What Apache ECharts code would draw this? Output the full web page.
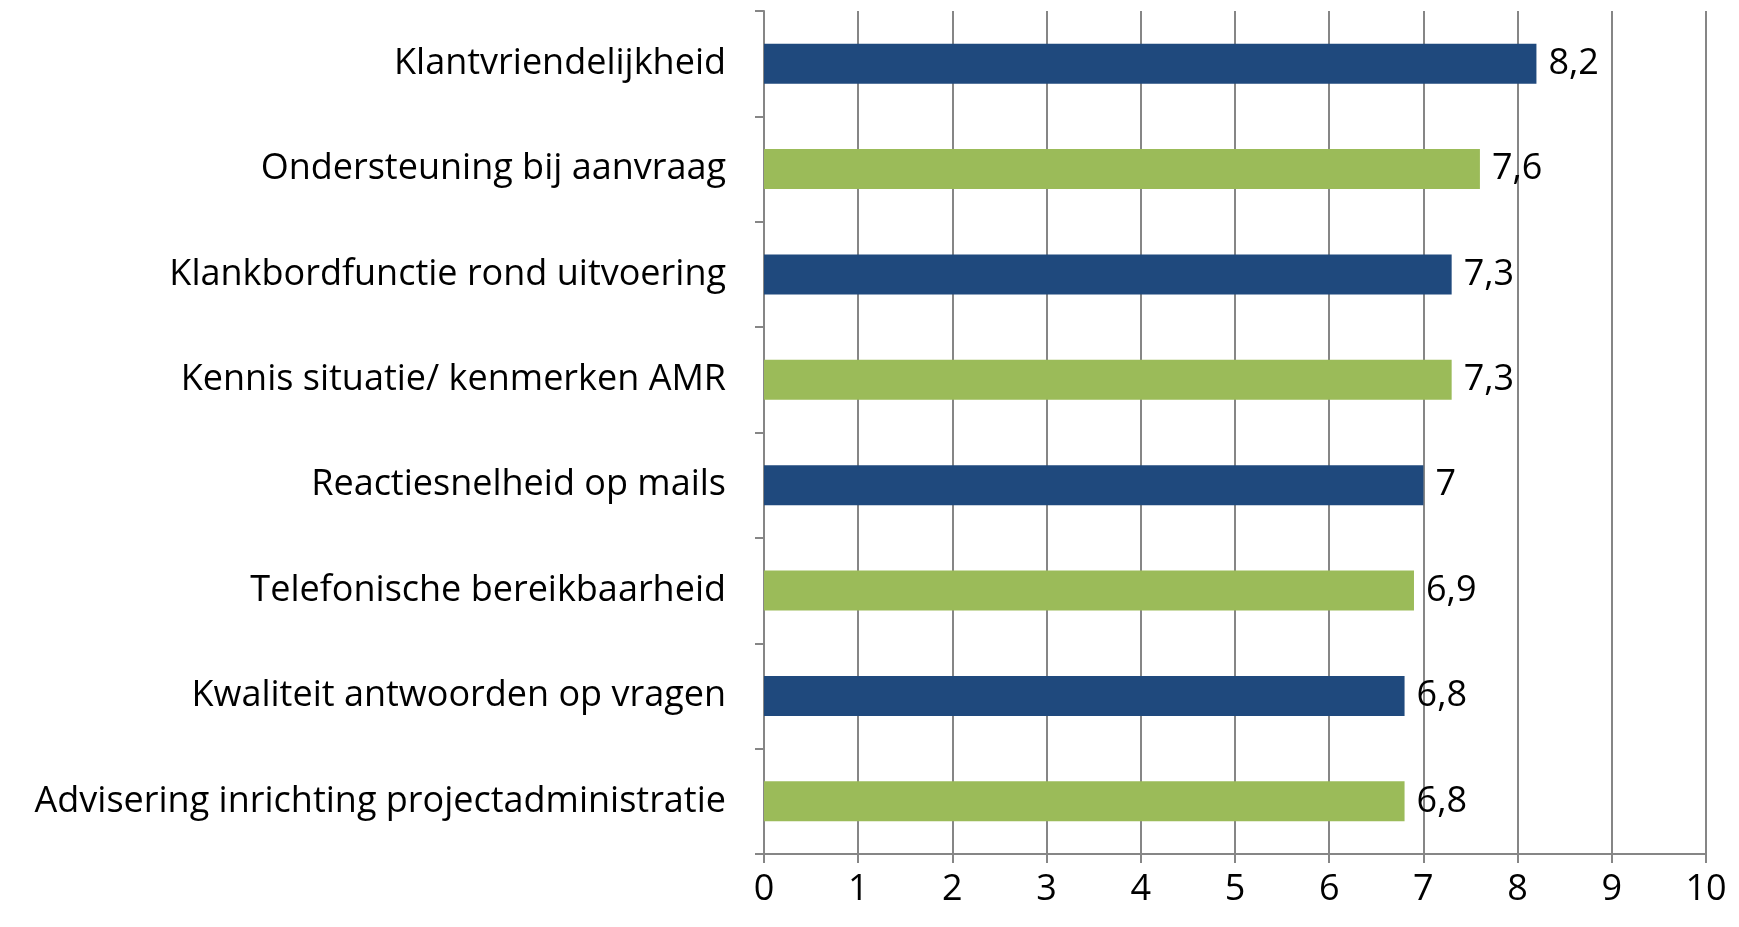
<!DOCTYPE html>
<html>
<head>
<meta charset="utf-8">
<script src="https://cdn.jsdelivr.net/npm/echarts@6/dist/echarts.min.js"></script>
<style>
html,body{margin:0;padding:0;background:#fff;}
#main{width:1739px;height:927px;}
</style>
</head>
<body>
<div id="main"></div>
<script>
var categories = ['Klantvriendelijkheid', 'Ondersteuning bij aanvraag', 'Klankbordfunctie rond uitvoering',
	'Kennis situatie/ kenmerken AMR', 'Reactiesnelheid op mails', 'Telefonische bereikbaarheid',
	'Kwaliteit antwoorden op vragen', 'Advisering inrichting projectadministratie'];
var scores = [8.2, 7.6, 7.3, 7.3, 7, 6.9, 6.8, 6.8];
var barColors = ['#1F497D', '#9BBB59'];
var xTicks = [0, 1, 2, 3, 4, 5, 6, 7, 8, 9, 10];

var font = '"Open Sans", Lato, sans-serif';
var gray = '#868686';

var seriesData = [];
for (var i = 0; i < scores.length; i++) {
	seriesData.push({ value: scores[i], itemStyle: { color: barColors[i % 2] } });
}

var myChart = echarts.init(document.getElementById('main'));
var option = {
	animation: false,
	grid: { left: 764, right: 33, top: 11, bottom: 73 },
	xAxis: {
		type: 'value',
		min: xTicks[0],
		max: xTicks[xTicks.length - 1],
		interval: 1,
		axisLine: { show: true, lineStyle: { color: gray, width: 2 } },
		axisTick: { show: true, length: 9, lineStyle: { color: gray, width: 2 } },
		splitLine: { show: true, lineStyle: { color: gray, width: 2 } },
		axisLabel: { color: '#000', fontFamily: font, fontSize: 36, margin: 18 }
	},
	yAxis: {
		type: 'category',
		inverse: true,
		data: categories,
		axisLine: { show: true, lineStyle: { color: gray, width: 2 } },
		axisTick: { show: true, length: 9, lineStyle: { color: gray, width: 2 } },
		axisLabel: { color: '#000', fontFamily: font, fontSize: 36, margin: 38 }
	},
	series: [{
		type: 'bar',
		data: seriesData,
		barWidth: 40,
		label: {
			show: true,
			position: 'right',
			distance: 12,
			color: '#000',
			fontFamily: font,
			fontSize: 36,
			formatter: function (p) { return String(p.value).replace('.', ','); }
		}
	}]
};
myChart.setOption(option);
</script>
</body>
</html>
